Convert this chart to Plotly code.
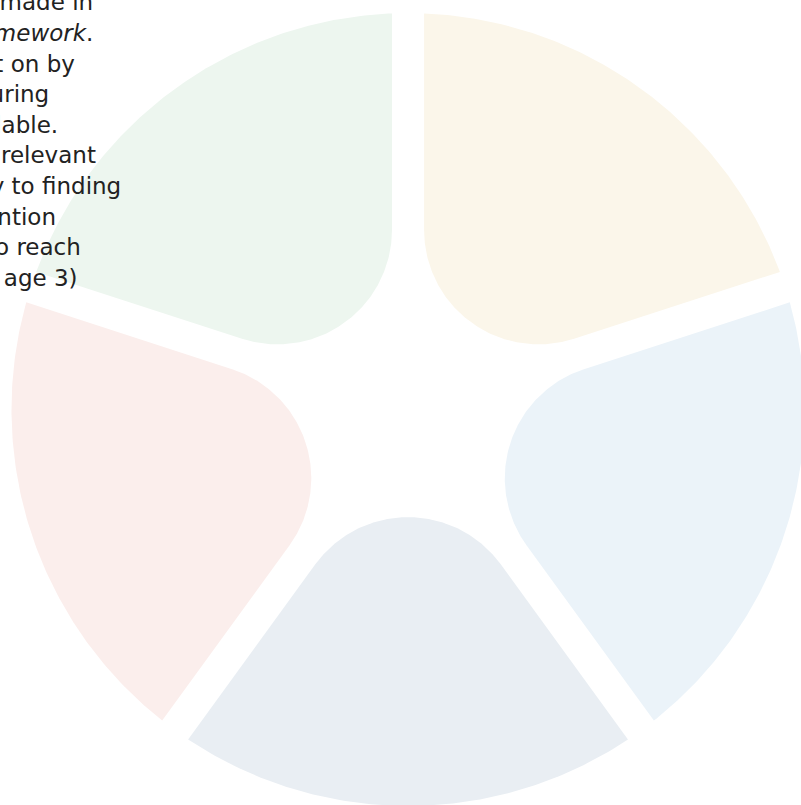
import numpy as np
import plotly.graph_objects as go

# ---------------- data ----------------
# five equal petals, listed clockwise starting at the top-right one
segments = ["Segment A", "Segment B", "Segment C", "Segment D", "Segment E"]
segment_values = [1, 1, 1, 1, 1]
segment_colors = ["#FBF6EA", "#EBF3F9", "#E9EEF3", "#FBEEEC", "#EDF6EF"]

text_lines = [
    "decisions are made in",
    "the <i>Framework</i>.",
    "carried out on by",
    "during",
    "available.",
    "where relevant",
    "key to finding",
    "intervention",
    "to reach",
    "(or age 3)",
]

# ---------------- geometry (layout) ----------------
W, H = 801, 805
R = 1.0              # outer radius
GAP = 0.0404         # half-width of the white gap between petals
CORNER = 0.289       # radius of the rounded inner corner
START_DEG = 90.0     # first boundary at the top, going clockwise

x_range = [-1.029, 0.991]
y_range = [-0.9975, 1.033]


def petal(theta1, theta2, n=120):
    """Closed outline of one petal between boundary angles theta1<theta2 (radians)."""
    phi = 0.5 * (theta1 + theta2)
    alpha = 0.5 * (theta2 - theta1)
    u1 = np.array([np.cos(theta1), np.sin(theta1)])
    n1 = np.array([-np.sin(theta1), np.cos(theta1)])
    u2 = np.array([np.cos(theta2), np.sin(theta2)])
    n2 = np.array([np.sin(theta2), -np.cos(theta2)])
    bis = np.array([np.cos(phi), np.sin(phi)])
    apex = (GAP / np.sin(alpha)) * bis
    d = CORNER / np.sin(alpha)
    C = apex + d * bis
    T1 = GAP * n1 + (C @ u1) * u1
    T2 = GAP * n2 + (C @ u2) * u2
    delta = np.arcsin(GAP / R)
    a_out = np.linspace(theta1 + delta, theta2 - delta, n)
    outer = np.c_[R * np.cos(a_out), R * np.sin(a_out)]
    a_in = np.linspace(theta2 + np.pi / 2, theta1 + 1.5 * np.pi, n)
    inner = np.c_[C[0] + CORNER * np.cos(a_in), C[1] + CORNER * np.sin(a_in)]
    pts = np.vstack([T1[None, :], outer, T2[None, :], inner, T1[None, :]])
    return pts[:, 0], pts[:, 1]


fig = go.Figure()
total = float(sum(segment_values))
cum = 0.0
for name, val, col in zip(segments, segment_values, segment_colors):
    a_hi = np.deg2rad(START_DEG - 360.0 * cum / total)
    a_lo = np.deg2rad(START_DEG - 360.0 * (cum + val) / total)
    cum += val
    xs, ys = petal(a_lo, a_hi)
    fig.add_trace(go.Scatter(
        x=xs, y=ys, mode="lines", fill="toself",
        fillcolor=col, line=dict(width=0, color=col),
        name=name, hoverinfo="name", showlegend=False,
    ))

# text block at the top-left (cut off by the page edge)
FONT_SIZE = 23
right_edges_px = [95, 95, 77, 51, 60, 98, 123, 58, 83, 80]
baselines_px = [9 + 30.6 * i for i in range(len(text_lines))]
for line, rx, by in zip(text_lines, right_edges_px, baselines_px):
    fig.add_annotation(
        x=rx / W, y=1 - (by - 0.29 * FONT_SIZE) / H, xref="paper", yref="paper",
        text=line, showarrow=False, xanchor="right", yanchor="middle",
        align="left", font=dict(family="DejaVu Sans", size=FONT_SIZE, color="#222222"),
    )

fig.update_xaxes(range=x_range, visible=False, fixedrange=True)
fig.update_yaxes(range=y_range, visible=False, fixedrange=True)
fig.update_layout(
    width=W, height=H,
    margin=dict(l=0, r=0, t=0, b=0),
    paper_bgcolor="white", plot_bgcolor="white",
    showlegend=False,
)

fig.write_html(
    "out.html",
    config={"displayModeBar": False},
    post_script="document.body.style.margin='0px';document.body.style.overflow='hidden';",
)
